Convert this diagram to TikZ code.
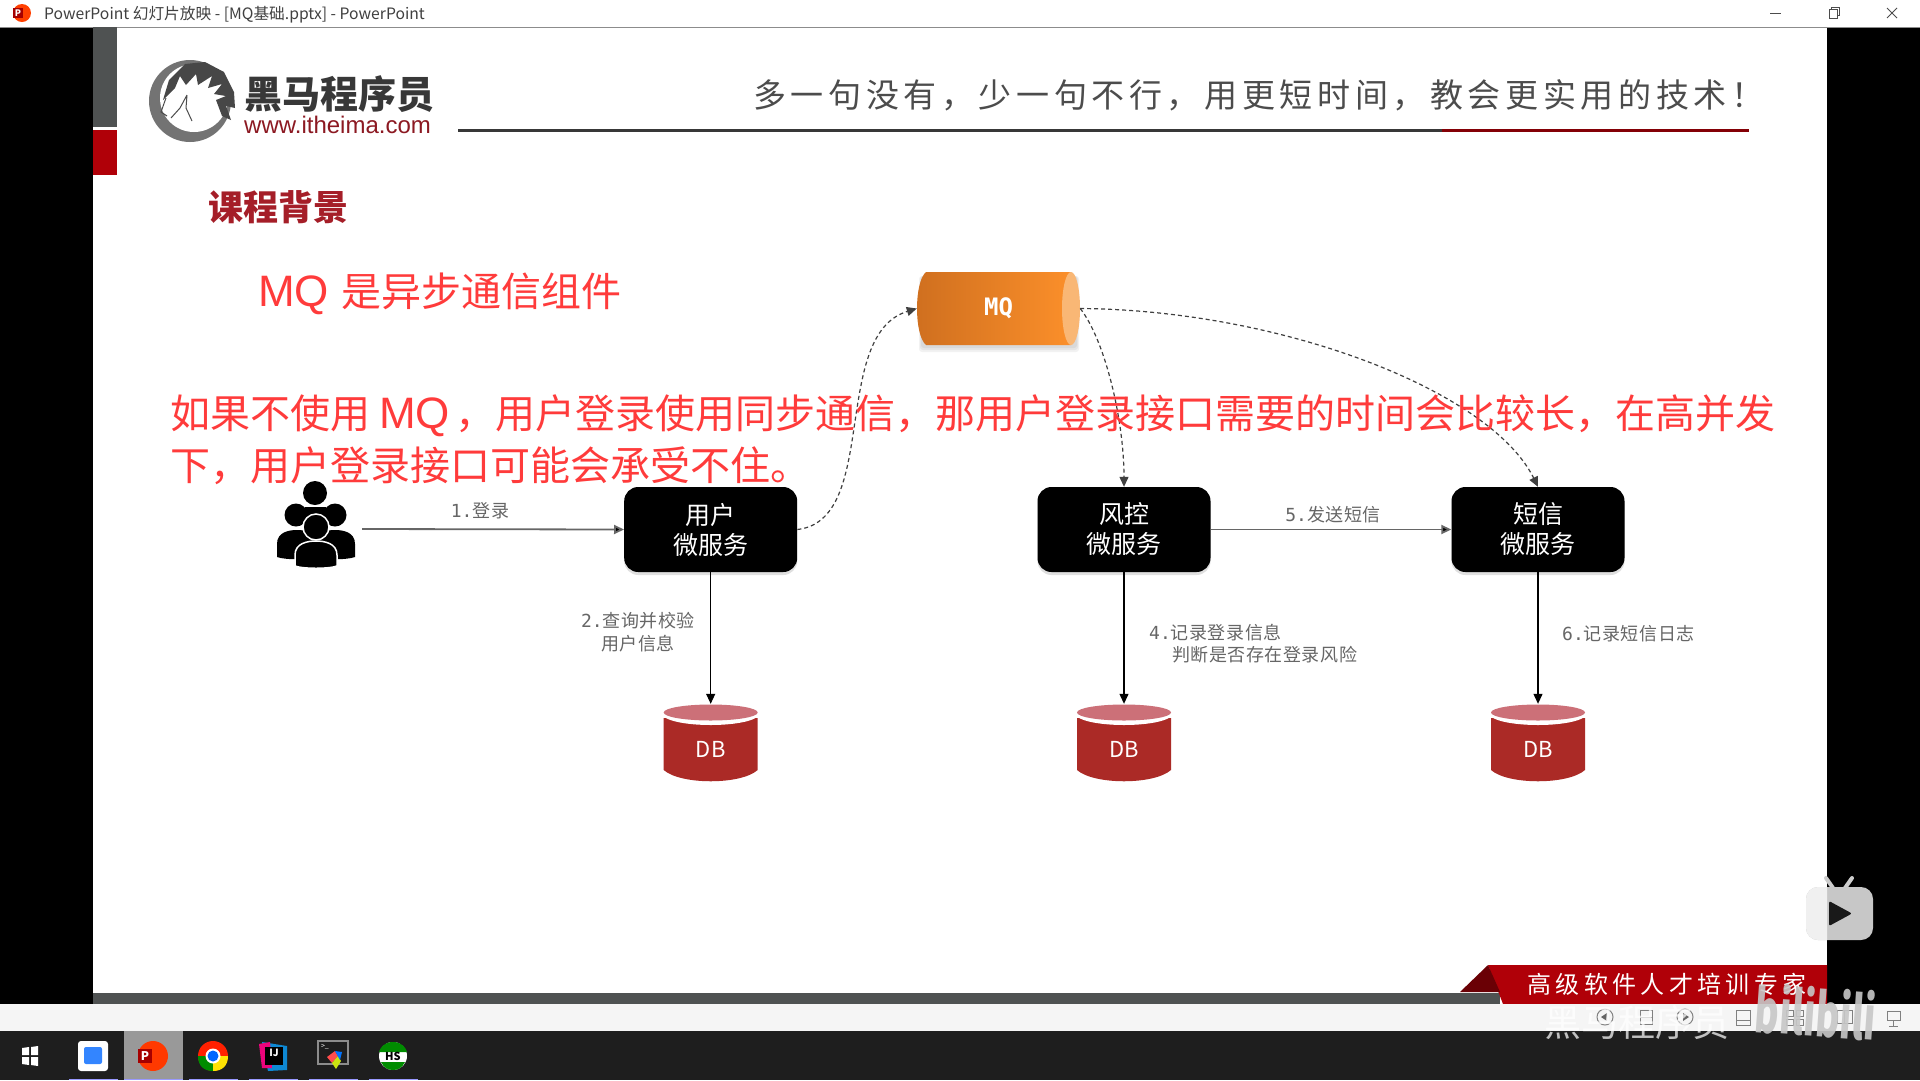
\documentclass[tikz,border=0pt]{standalone}
\usepackage{fontspec}
\setmainfont{Noto Sans CJK SC}
\newfontfamily\lblfont[LetterSpace=3]{Noto Sans CJK SC}
\newfontfamily\slgfont[LetterSpace=14]{Noto Sans CJK SC}
\newfontfamily\rbnfont[LetterSpace=18]{Noto Sans CJK SC}
\newfontfamily\urlfont{Liberation Sans}
\newfontfamily\numfont{DejaVu Sans Mono}
\newcommand{\fsz}[1]{\fontsize{#1}{#1}\selectfont}
\newcommand{\fcomma}{\symbol{"FF0C}}
\newcommand{\fbang}{\symbol{"FF01}}
\newcommand{\mqword}{{\urlfont\fsz{44}MQ}}
\usetikzlibrary{arrows.meta,shadows,calc}
\definecolor{redtxt}{HTML}{FF3B3B}
\definecolor{darkred}{HTML}{A51E28}
\definecolor{barred}{HTML}{B00008}
\definecolor{bargray}{HTML}{4F5252}
\definecolor{lblgray}{HTML}{666666}
\definecolor{dbbody}{HTML}{AB2A26}
\definecolor{dbtop}{HTML}{CC7078}
\definecolor{mqleft}{HTML}{CF6F1F}
\definecolor{mqright}{HTML}{FB8F2A}
\definecolor{mqcap}{HTML}{F9B775}
\definecolor{taskbar}{HTML}{1E1E1E}
\tikzset{
  svcbox/.style={fill=black,rounded corners=14pt,minimum width=173pt,minimum height=85pt,
     text=white,align=center,inner sep=0pt,font=\fsz{25}\linespread{1}\selectfont,
     drop shadow={shadow xshift=0pt,shadow yshift=-3pt,opacity=.25}},
  dbanchor/.style={minimum width=95pt,minimum height=90pt,inner sep=0pt,text=white,font=\fsz{22}},
  flowlbl/.style={text=lblgray,font=\lblfont\fsz{18},inner sep=0pt,align=center},
  dashflow/.style={draw=black!75,line width=1.2pt,dash pattern=on 4pt off 3pt,-{Triangle[length=10pt,width=9pt]}},
  solidflow/.style={draw=black,line width=1.2pt,-{Triangle[length=10pt,width=9pt]}},
  grayflow/.style={draw=lblgray,line width=1.8pt,-{Triangle[length=10pt,width=9pt,fill=black]}},
  redtext/.style={text=redtxt,anchor=west,inner sep=0pt,font=\fsz{40}},
  wmark/.style={text=white,opacity=.72,inner sep=0pt},
  toolicon/.style={draw=black!50,line width=1pt},
}
\newcommand{\cyl}[1]{%
  \fill[dbbody] (#1-47,718) -- (#1-47,770) .. controls (#1-30,785) and (#1+30,785) .. (#1+47,770) -- (#1+47,718) -- cycle;
  \fill[white] (#1,714) ellipse [x radius=48pt,y radius=11pt];
  \fill[dbtop] (#1,712.5) ellipse [x radius=47pt,y radius=8pt];
}
\newcommand{\bodyshape}[4]{% cx, top, halfwidth, bottom
  (#1-#3,#4) -- (#1-#3,#2+14) .. controls (#1-#3,#2+2) and (#1-8,#2) .. (#1,#2)
  .. controls (#1+8,#2) and (#1+#3,#2+2) .. (#1+#3,#2+14) -- (#1+#3,#4)
  .. controls (#1+#3-8,#4+3) and (#1-#3+8,#4+3) .. (#1-#3,#4) -- cycle}
\newcommand{\num}[1]{{\numfont #1}}
\begin{document}
\begin{tikzpicture}[x=1pt,y=-1pt]
\useasboundingbox (0,0) rectangle (1920,1080);
% window
\fill[black] (0,0) rectangle (1920,1080);
\fill[white] (93,27) rectangle (1827,1004);
\fill[white] (0,0) rectangle (1920,26.5);
\fill[black!45] (0,26.5) rectangle (1920,27.5);
% slide side marks
\fill[bargray] (93,27) rectangle (117,127);
\fill[barred] (93,130) rectangle (117,175);
% bottom strip
\fill[bargray] (93,993) rectangle (1500,1004);
% ribbon
\fill[barred] (1488,965) -- (1827,965) -- (1827,1004) -- (1503,1004) -- cycle;
\fill[barred!60!black] (1460,992) -- (1488,965) -- (1500,992) -- cycle;
\node[text=white,inner sep=0pt,font=\rbnfont\fsz{24}] (ribbon) at (1667,984) {高级软件人才培训专家};
% status and task bar
\fill[black!4] (0,1004) rectangle (1920,1031);
\fill[taskbar] (0,1031) rectangle (1920,1080);
% title bar
\fill[orange!50!red] (22,13) circle [radius=9pt];
\fill[red!65!black] (13,8) rectangle (23,18);
\node[text=white,inner sep=0pt,font=\fsz{9}\bfseries] (ppti) at (18,13) {P};
\node[anchor=west,text=black!75,inner sep=0pt,font=\fsz{15.7}] (title) at (44,14.5) {PowerPoint 幻灯片放映 - [MQ基础.pptx] - PowerPoint};
\draw[black!70,line width=1pt] (1770,13) -- (1781,13);
\draw[black!70,line width=1pt] (1829,9) rectangle (1837,18);
\draw[black!70,line width=1pt] (1831,9) -- (1831,7) -- (1839,7) -- (1839,15) -- (1837,15);
\draw[black!70,line width=1pt] (1887,8) -- (1897,18) (1897,8) -- (1887,18);
% logo
\fill[black!55] (190,101) circle [radius=41pt];
\fill[white] (194,98) circle [radius=34pt];
\fill[black!72] (163,100) -- (169,80) -- (185,64) -- (205,62) -- (224,72) -- (234,92) -- (235,108) -- (226,106) -- (231,120) -- (222,116) -- (216,100) -- (226,96) -- (214,94) -- (222,84) -- (208,88) -- (212,76) -- (198,85) -- (196,74) -- (186,85) -- (180,76) -- (175,88) -- cycle;
\draw[black!70,line width=1pt] (187,95) -- (180,108) -- (171,118) (187,95) -- (186,108) -- (192,121);
\draw[black!70,line width=1pt] (166,98) -- (161,112) -- (167,116);
\node[anchor=west,text=black!78,inner sep=0pt,font=\fsz{38}\bfseries] (brand) at (244,94) {黑马程序员};
\node[anchor=west,text=darkred!85!black,inner sep=0pt,font=\urlfont\fsz{24}] (url) at (244,125) {www.itheima.com};
% header
\draw[black!78,line width=3pt] (458,130) -- (1442,130);
\draw[barred!75!black,line width=3pt] (1442,130) -- (1749,130);
\node[anchor=west,text=black!70,inner sep=0pt,font=\slgfont\fsz{33}] (slogan) at (753,95) {多一句没有\fcomma 少一句不行\fcomma 用更短时间\fcomma 教会更实用的技术\fbang};
\node[text=darkred,inner sep=0pt,font=\fsz{35}\bfseries] (head) at (278,207) {课程背景};
% MQ cylinder
\foreach \s in {1,2,3}{\fill[black,opacity=.05,rounded corners=3pt] (922-\s,276) rectangle (1076+\s,346+\s*2);}
\shade[left color=mqleft,right color=mqright] (926,272) -- (1071,272) -- (1071,345) -- (926,345) .. controls (914,335) and (914,282) .. (926,272) -- cycle;
\fill[mqcap] (1071,308.5) ellipse [x radius=9pt,y radius=36.5pt];
\node[minimum width=163pt,minimum height=73pt,inner sep=0pt,text=white,font=\numfont\fsz{24}\bfseries] (mq) at (998.5,308.5) {MQ};
% users icon
\fill[black] (315,493) circle [radius=12pt];
\fill[black] (296,515) circle [radius=11.5pt];
\fill[black] (335,515) circle [radius=11.5pt];
\fill[black] \bodyshape{297}{530}{20}{557};
\fill[black] \bodyshape{335}{530}{20}{557};
\fill[black] (305,507) rectangle (326,530);
\fill[black,draw=white,line width=1.5pt] (316,527) circle [radius=13pt];
\fill[black,draw=white,line width=1.5pt] \bodyshape{316}{541}{21}{566};
\node[minimum width=92pt,minimum height=89pt,inner sep=0pt] (user) at (316,529) {};
% service boxes
\node[svcbox] (usvc) at (710.7,529.5) {用户\\[5pt]微服务};
\node[svcbox] (risk) at (1124,529.5) {风控\\[5pt]微服务};
\node[svcbox] (sms) at (1538,529.5) {短信\\[5pt]微服务};
% databases
\cyl{710.7}\cyl{1124}\cyl{1538}
\node[dbanchor] (db1) at (710.7,749) {DB};
\node[dbanchor] (db2) at (1124,749) {DB};
\node[dbanchor] (db3) at (1538,749) {DB};
% connectors
\draw[grayflow] (user.east) -- (usvc.west);
\draw[grayflow] (risk.east) -- (sms.west);
\draw[solidflow] (usvc.south) -- (db1.north);
\draw[solidflow] (risk.south) -- (db2.north);
\draw[solidflow] (sms.south) -- (db3.north);
\draw[dashflow] (usvc.east) .. controls (880,520) and (830,335) .. (mq.west);
\draw[dashflow] (mq.east) .. controls (1105,340) and (1124,420) .. (risk.north);
\draw[dashflow] (mq.east) .. controls (1280,310) and (1490,390) .. (sms.north);
% labels
\node[flowlbl] (l1) at (480,511) {\num{1.}登录};
\node[flowlbl] (l5) at (1333,515) {\num{5.}发送短信};
\node[flowlbl] (l2) at (638,632) {\num{2.}查询并校验\\[5pt]用户信息};
\node[flowlbl,anchor=west] (l4a) at (1149,633) {\num{4.}记录登录信息};
\node[flowlbl,anchor=west] (l4b) at (1172,655) {判断是否存在登录风险};
\node[flowlbl,anchor=west] (l6) at (1562,634) {\num{6.}记录短信日志};
% red overlay text
\node[redtext] (t1) at (258,294) {\mqword\hspace{3pt} 是异步通信组件};
\node[redtext] (t2) at (170,416) {如果不使用 \mqword\hspace{5pt}\fcomma 用户登录使用同步通信\fcomma 那用户登录接口需要的时间会比较长\fcomma 在高并发};
\node[redtext] (t3) at (170,466) {下\fcomma 用户登录接口可能会承受不住。};
% taskbar icons
\fill[white] (22,1048) -- (29,1047) -- (29,1055) -- (22,1055) -- cycle;
\fill[white] (31,1047) -- (38,1046) -- (38,1055) -- (31,1055) -- cycle;
\fill[white] (22,1057) -- (29,1057) -- (29,1065) -- (22,1064) -- cycle;
\fill[white] (31,1057) -- (38,1057) -- (38,1066) -- (31,1065) -- cycle;
\fill[white,rounded corners=3pt] (78,1041) rectangle (108,1071);
\fill[blue!60!cyan!80,rounded corners=2pt] (84,1047) rectangle (102,1064);
\fill[black!40] (124,1031) rectangle (183,1080);
\fill[orange!45!red] (153,1056) circle [radius=15pt];
\fill[red!65!black] (138,1049) rectangle (152,1063);
\node[text=white,inner sep=0pt,font=\fsz{12}\bfseries] (pptb) at (145,1056) {P};
\fill[red!75!orange] (213,1056) circle [radius=15pt];
\fill[green!55!black] (213,1056) -- (198,1056) .. controls (198,1066) and (204,1071) .. (213,1071) -- cycle;
\fill[yellow!85!orange] (213,1056) -- (213,1071) .. controls (222,1071) and (228,1066) .. (228,1056) -- cycle;
\fill[white] (213,1056) circle [radius=7.5pt];
\fill[blue!60!cyan] (213,1056) circle [radius=5.5pt];
\fill[cyan!70!blue] (262,1042) -- (287,1046) -- (287,1070) -- (268,1071) -- cycle;
\fill[magenta!85!red] (259,1044) -- (270,1042) -- (272,1068) -- (262,1068) -- cycle;
\fill[black] (265,1047) rectangle (283,1065);
\node[text=white,inner sep=0pt,font=\fsz{10}\bfseries] (ij) at (274,1053) {IJ};
\draw[black!45,line width=1.5pt] (318,1041) rectangle (348,1064);
\node[text=white,inner sep=0pt,font=\fsz{7}] (shell) at (325,1047) {>\_};
\fill[red!70] (327,1057) -- (335,1051) -- (338,1056) -- (332,1063) -- cycle;
\fill[yellow!80!green] (332,1063) -- (338,1056) -- (341,1061) -- (336,1069) -- cycle;
\fill[blue!55!cyan] (335,1051) -- (342,1052) -- (340,1060) -- cycle;
\fill[white] (393,1056) circle [radius=14pt];
\fill[green!55!black] (393,1042) .. controls (384,1042) and (380,1048) .. (379,1052) -- (407,1052) .. controls (406,1048) and (402,1042) .. (393,1042) -- cycle;
\fill[green!55!black] (381,1062) -- (405,1062) .. controls (402,1068) and (398,1070) .. (393,1070) .. controls (388,1070) and (384,1068) .. (381,1062) -- cycle;
\node[text=black,inner sep=0pt,font=\fsz{11}\bfseries] (hs) at (393,1056) {HS};
\fill[blue!40!white] (69,1079) rectangle (118,1080);
\fill[blue!40!white] (124,1079) rectangle (183,1080);
\fill[blue!40!white] (189,1079) rectangle (238,1080);
\fill[blue!40!white] (249,1079) rectangle (298,1080);
\fill[blue!40!white] (309,1079) rectangle (358,1080);
\fill[blue!40!white] (369,1079) rectangle (418,1080);
% status bar icons
\draw[toolicon] (1605,1017) circle [radius=8pt];
\fill[black!60] (1601,1017) -- (1607,1013) -- (1607,1021) -- cycle;
\draw[toolicon] (1640,1010) rectangle (1652,1024);
\draw[toolicon] (1640,1017) -- (1652,1017);
\draw[toolicon] (1685,1017) circle [radius=8pt];
\fill[black!60] (1689,1017) -- (1683,1013) -- (1683,1021) -- cycle;
\draw[toolicon] (1736,1010) rectangle (1750,1025);
\draw[toolicon] (1736,1020) -- (1750,1020);
\draw[toolicon] (1786,1010) rectangle (1793,1016) (1796,1010) rectangle (1803,1016) (1786,1019) rectangle (1793,1025) (1796,1019) rectangle (1803,1025);
\draw[toolicon] (1837,1010) rectangle (1852,1023) (1844.5,1010) -- (1844.5,1023);
\draw[toolicon] (1887,1011) rectangle (1900,1020) (1893.5,1020) -- (1893.5,1026) (1889,1026) -- (1898,1026);
% watermarks
\node[wmark,font=\fsz{37}] (wm) at (1637,1022) {黑马程序员};
\node[text=black!22,opacity=.9,inner sep=0pt,rotate=-4,xscale=.62,font=\fsz{60}\bfseries] (bili) at (1816,1012) {bilibili};
% TV logo
\draw[black!20,line width=4pt,line cap=round] (1826,878) -- (1833,888) (1852,878) -- (1845,888);
\fill[black!22,rounded corners=12pt] (1806,887) rectangle (1873,940);
\begin{scope}
\clip (1806,870) rectangle (1827,945);
\fill[black!6,rounded corners=12pt] (1806,887) rectangle (1873,940);
\end{scope}
\fill[black!90,rounded corners=2pt] (1829,901) -- (1852,913.5) -- (1829,926) -- cycle;
\end{tikzpicture}
\end{document}
